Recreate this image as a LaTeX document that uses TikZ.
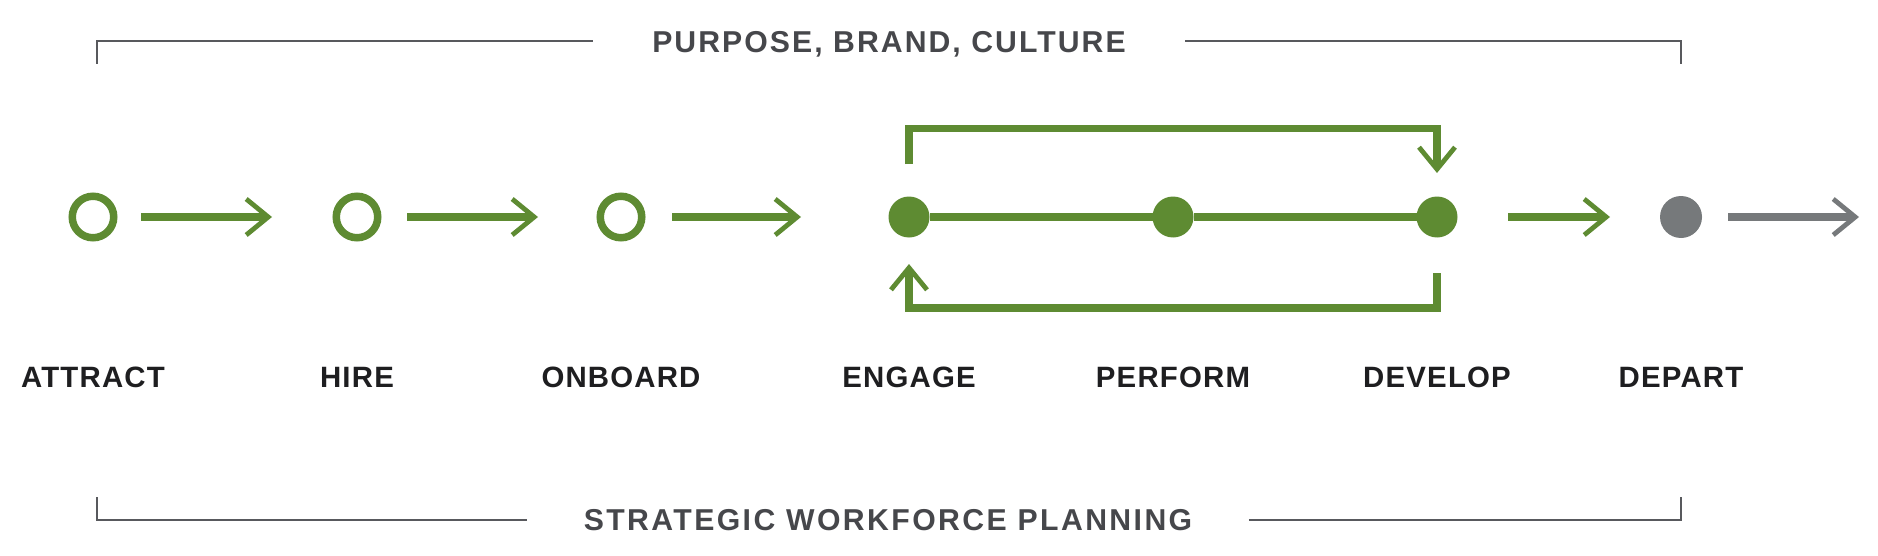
\documentclass[tikz,border=0pt]{standalone}
\usepackage{fontspec}
\setmainfont{Liberation Sans}
\newfontfamily\stagefont{Liberation Sans}[LetterSpace=4]
\newfontfamily\bandfont{Liberation Sans}[LetterSpace=6.8]
\newfontfamily\planfont{Liberation Sans}[LetterSpace=8]
\usetikzlibrary{arrows.meta, positioning}
\definecolor{leafgreen}{HTML}{5E8B32}
\definecolor{departgray}{HTML}{76797B}
\definecolor{bracketgray}{HTML}{58595D}
\definecolor{headgray}{HTML}{46474B}
\definecolor{inkblack}{HTML}{1E1E20}

\begin{document}
\begin{tikzpicture}[x=0.5pt, y=-0.5pt, line width=3.6pt,
  ring/.style={circle, draw=leafgreen, line width=3.75pt, fill=white, inner sep=0pt, minimum size=20.75pt},
  dot/.style={circle, fill=#1, inner sep=0pt, outer sep=0pt, minimum size=20.5pt},
  flow/.style={draw=#1, line width=3.6pt, -{Straight Barb[length=11pt, width=18pt, line width=2.4pt]}},
  flow/.default=leafgreen,
  stagename/.style={font=\stagefont\bfseries\fontsize{14.7}{16}\selectfont, text=inkblack, inner sep=0pt, text height=10.5pt, text depth=0pt},
  bandname/.style={font=\bandfont\bfseries\fontsize{15.1}{17}\selectfont, text=headgray, inner ysep=0pt, inner xsep=28pt, text height=10.85pt, text depth=0pt},
  bracket/.style={draw=bracketgray, line width=1pt}]
  \useasboundingbox (0,0) rectangle (1878,556);

  % stages
  \node[ring] (attract) at (93,217) {};
  \node[ring] (hire) at (357,217) {};
  \node[ring] (onboard) at (621,217) {};
  \node[dot=leafgreen] (engage) at (909,217) {};
  \node[dot=leafgreen] (perform) at (1173,217) {};
  \node[dot=leafgreen] (develop) at (1437,217) {};
  \node[dot=departgray, minimum size=21pt] (depart) at (1681,217) {};
  \coordinate (exit) at (1859,217);

  \node[stagename, below=72.75pt of attract.center] (attract-name) {ATTRACT};
  \node[stagename, below=72.75pt of hire.center] (hire-name) {HIRE};
  \node[stagename, below=72.75pt of onboard.center] (onboard-name) {ONBOARD};
  \node[stagename, below=72.75pt of engage.center] (engage-name) {ENGAGE};
  \node[stagename, below=72.75pt of perform.center] (perform-name) {PERFORM};
  \node[stagename, below=72.75pt of develop.center] (develop-name) {DEVELOP};
  \node[stagename, below=72.75pt of depart.center] (depart-name) {DEPART};

  % arrows between stages
  \draw[flow, shorten <=11.75pt, shorten >=30.25pt] (attract) -- (hire);
  \draw[flow, shorten <=12.75pt, shorten >=29.25pt] (hire) -- (onboard);
  \draw[flow, shorten <=13.25pt, shorten >=43.75pt] (onboard) -- (engage);
  \draw[leafgreen] (engage) -- (perform) -- (develop);
  \draw[flow, shorten <=25.25pt, shorten >=25pt] (develop) -- (depart);
  \draw[flow=departgray, shorten <=13pt] (depart) -- (exit);

  % feedback loops
  \coordinate (looptop) at (0,128.5);
  \coordinate (loopbottom) at (0,308);
  \draw[flow] ([yshift=16.25pt]engage.north) |- (looptop -| develop) -- ([yshift=11.75pt]develop.north);
  \draw[flow] ([yshift=-17.75pt]develop.south) |- (loopbottom -| engage) -- ([yshift=-13.25pt]engage.south);

  % brackets
  \node[bandname] (culture) at (889,41.5) {PURPOSE, BRAND, CULTURE};
  \draw[bracket] (97,64) |- (culture.west);
  \draw[bracket] (culture.east) -| (1681,64);
  \node[bandname, font=\planfont\bfseries\fontsize{15.1}{17}\selectfont, inner xsep=26.5pt] (planning) at (888,519.5) {STRATEGIC WORKFORCE PLANNING};
  \draw[bracket] (97,497) |- (planning.west);
  \draw[bracket] (planning.east) -| (1681,497);
\end{tikzpicture}
\end{document}
